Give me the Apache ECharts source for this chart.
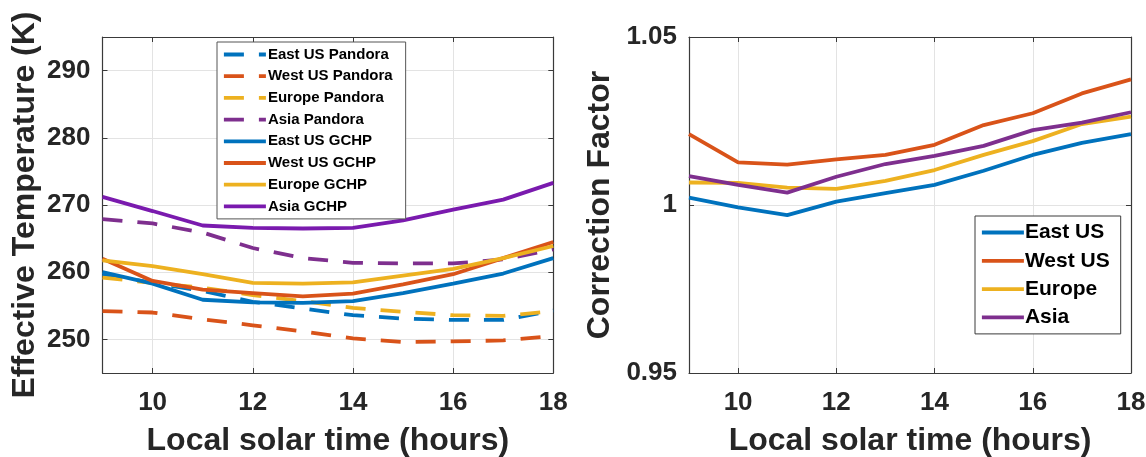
<!DOCTYPE html>
<html>
<head>
<meta charset="utf-8">
<script src="https://cdn.jsdelivr.net/npm/echarts@6/dist/echarts.min.js"></script>
<style>
html,body{margin:0;padding:0;background:#fff;}
#chart{width:1146px;height:457px;}
</style>
</head>
<body>
<div id="chart"></div>
<script>
// ---- data ----
const hours = [9, 10, 11, 12, 13, 14, 15, 16, 17, 18];
const xTicks = [10, 12, 14, 16, 18];
const tempTicks = [250, 260, 270, 280, 290];
const cfTicks = [0.95, 1, 1.05];

const eastPandora   = [259.7, 258.4, 257.2, 255.6, 254.6, 253.6, 253.1, 252.9, 252.9, 254.3];
const westPandora   = [254.2, 254.0, 253.0, 252.1, 251.2, 250.15, 249.6, 249.7, 249.85, 250.5];
const europePandora = [259.2, 258.4, 257.7, 256.6, 255.7, 254.7, 254.1, 253.6, 253.5, 254.2];
const asiaPandora   = [267.9, 267.25, 265.9, 263.6, 262.1, 261.4, 261.3, 261.3, 261.9, 263.4];
const eastGCHP      = [260.0, 258.3, 255.9, 255.5, 255.45, 255.7, 256.9, 258.3, 259.8, 262.1];
const westGCHP      = [262.0, 258.7, 257.4, 256.9, 256.4, 256.8, 258.2, 259.7, 262.1, 264.5];
const europeGCHP    = [261.75, 260.9, 259.7, 258.4, 258.3, 258.5, 259.5, 260.5, 262.1, 263.9];
const asiaGCHP      = [271.2, 269.1, 266.95, 266.6, 266.5, 266.6, 267.7, 269.3, 270.8, 273.3];

const cfEast   = [1.0022, 0.9993, 0.9970, 1.0010, 1.0035, 1.0060, 1.0102, 1.0149, 1.0185, 1.0211];
const cfWest   = [1.0211, 1.0127, 1.0120, 1.0136, 1.0149, 1.0179, 1.0238, 1.0273, 1.0332, 1.0374];
const cfEurope = [1.0067, 1.0066, 1.0052, 1.0048, 1.0072, 1.0104, 1.0149, 1.0190, 1.0241, 1.0263];
const cfAsia   = [1.0086, 1.0060, 1.0037, 1.0084, 1.0122, 1.0146, 1.0176, 1.0223, 1.0245, 1.0276];

// ---- styles ----
const C = { blue: '#0072BD', orange: '#D95319', yellow: '#EDB120', purple: '#7E2F8E', violet: '#7A1AAE' };
const FONT = '"Liberation Sans", Arial, sans-serif';
const TXT = '#262626';
const AXC = '#3a3a3a';
const GRIDC = '#e3e3e3';
const DASH = [20, 15];
const LW = 3.8;

const pairs = (ys) => hours.map((h, i) => [h, ys[i]]);

function xAx(gridIndex) {
  return {
    type: 'value', gridIndex, min: 9, max: 18, position: 'bottom',
    name: 'Local solar time (hours)', nameLocation: 'middle', nameGap: 52,
    nameTextStyle: { fontFamily: FONT, fontWeight: 'bold', fontSize: 32, color: TXT },
    axisLine: { show: true, lineStyle: { color: AXC, width: 1.2 } },
    axisTick: { show: true, inside: true, length: 5, customValues: xTicks, lineStyle: { color: AXC } },
    axisLabel: { customValues: xTicks, margin: 17, fontFamily: FONT, fontWeight: 'bold', fontSize: 26, color: TXT },
    splitLine: { show: true, lineStyle: { color: GRIDC, width: 1 } }
  };
}
function xAxTop(gridIndex) {
  return {
    type: 'value', gridIndex, min: 9, max: 18, position: 'top',
    axisLine: { show: true, lineStyle: { color: AXC, width: 1.2 } },
    axisTick: { show: true, inside: true, length: 5, customValues: xTicks, lineStyle: { color: AXC } },
    axisLabel: { show: false }, splitLine: { show: false }
  };
}
function yAx(gridIndex, min, max, ticks, name, gap) {
  return {
    type: 'value', gridIndex, min, max, position: 'left',
    name, nameLocation: 'middle', nameGap: gap,
    nameTextStyle: { fontFamily: FONT, fontWeight: 'bold', fontSize: 32, color: TXT },
    axisLine: { show: true, lineStyle: { color: AXC, width: 1.2 } },
    axisTick: { show: true, inside: true, length: 5, customValues: ticks, lineStyle: { color: AXC } },
    axisLabel: { customValues: ticks, margin: 12, fontFamily: FONT, fontWeight: 'bold', fontSize: 26, color: TXT },
    splitLine: { show: true, lineStyle: { color: GRIDC, width: 1 } }
  };
}
function yAxRight(gridIndex, min, max, ticks) {
  return {
    type: 'value', gridIndex, min, max, position: 'right',
    axisLine: { show: true, lineStyle: { color: AXC, width: 1.2 } },
    axisTick: { show: true, inside: true, length: 5, customValues: ticks, lineStyle: { color: AXC } },
    axisLabel: { show: false }, splitLine: { show: false }
  };
}

function line(name, ys, color, dashed, xi, yi) {
  return {
    type: 'line', name, data: pairs(ys), xAxisIndex: xi, yAxisIndex: yi,
    symbol: 'none', smooth: false, silent: true, animation: false,
    lineStyle: { color, width: LW, type: dashed ? DASH : 'solid' },
    itemStyle: { color }
  };
}

const option = {
  animation: false,
  backgroundColor: '#ffffff',
  grid: [
    { left: 102.5, right: 592.7, top: 37, bottom: 84, containLabel: false, outerBoundsMode: 'none' },
    { left: 689, right: 15, top: 37, bottom: 84, containLabel: false, outerBoundsMode: 'none' }
  ],
  xAxis: [xAx(0), xAx(1), xAxTop(0), xAxTop(1)],
  yAxis: [
    yAx(0, 245, 295, tempTicks, 'Effective Temperature (K)', 61),
    yAx(1, 0.95, 1.05, cfTicks, 'Correction Factor', 73),
    yAxRight(0, 245, 295, tempTicks),
    yAxRight(1, 0.95, 1.05, cfTicks)
  ],
  legend: [
    {
      left: 217, top: 42, orient: 'vertical',
      padding: [5, 13, 5, 5], itemGap: 6.7, itemWidth: 42, itemHeight: 14,
      borderColor: '#555555', borderWidth: 1, backgroundColor: '#fff',
      itemStyle: { opacity: 0 },
      lineStyle: { width: 3.8 },
      textStyle: { fontFamily: FONT, fontWeight: 'bold', fontSize: 15, color: '#000', lineHeight: 15, padding: [0, 0, 0, -3] },
      data: ['East US Pandora', 'West US Pandora', 'Europe Pandora', 'Asia Pandora',
             'East US GCHP', 'West US GCHP', 'Europe GCHP', 'Asia GCHP']
    },
    {
      left: 975, top: 216, orient: 'vertical',
      padding: [6, 11, 6, 5], itemGap: 7.3, itemWidth: 42, itemHeight: 14,
      borderColor: '#3a3a3a', borderWidth: 1, backgroundColor: '#fff',
      itemStyle: { opacity: 0 },
      lineStyle: { width: 3.8 },
      textStyle: { fontFamily: FONT, fontWeight: 'bold', fontSize: 21, color: '#000', lineHeight: 20, padding: [0, 0, 0, -4] },
      data: ['East US', 'West US', 'Europe', 'Asia']
    }
  ],
  series: [
    line('East US Pandora', eastPandora, C.blue, true, 0, 0),
    line('West US Pandora', westPandora, C.orange, true, 0, 0),
    line('Europe Pandora', europePandora, C.yellow, true, 0, 0),
    line('Asia Pandora', asiaPandora, C.purple, true, 0, 0),
    line('East US GCHP', eastGCHP, C.blue, false, 0, 0),
    line('West US GCHP', westGCHP, C.orange, false, 0, 0),
    line('Europe GCHP', europeGCHP, C.yellow, false, 0, 0),
    line('Asia GCHP', asiaGCHP, C.violet, false, 0, 0),
    line('East US', cfEast, C.blue, false, 1, 1),
    line('West US', cfWest, C.orange, false, 1, 1),
    line('Europe', cfEurope, C.yellow, false, 1, 1),
    line('Asia', cfAsia, C.purple, false, 1, 1)
  ]
};

const chart = echarts.init(document.getElementById('chart'), null, { renderer: 'canvas' });
chart.setOption(option);
</script>
</body>
</html>
